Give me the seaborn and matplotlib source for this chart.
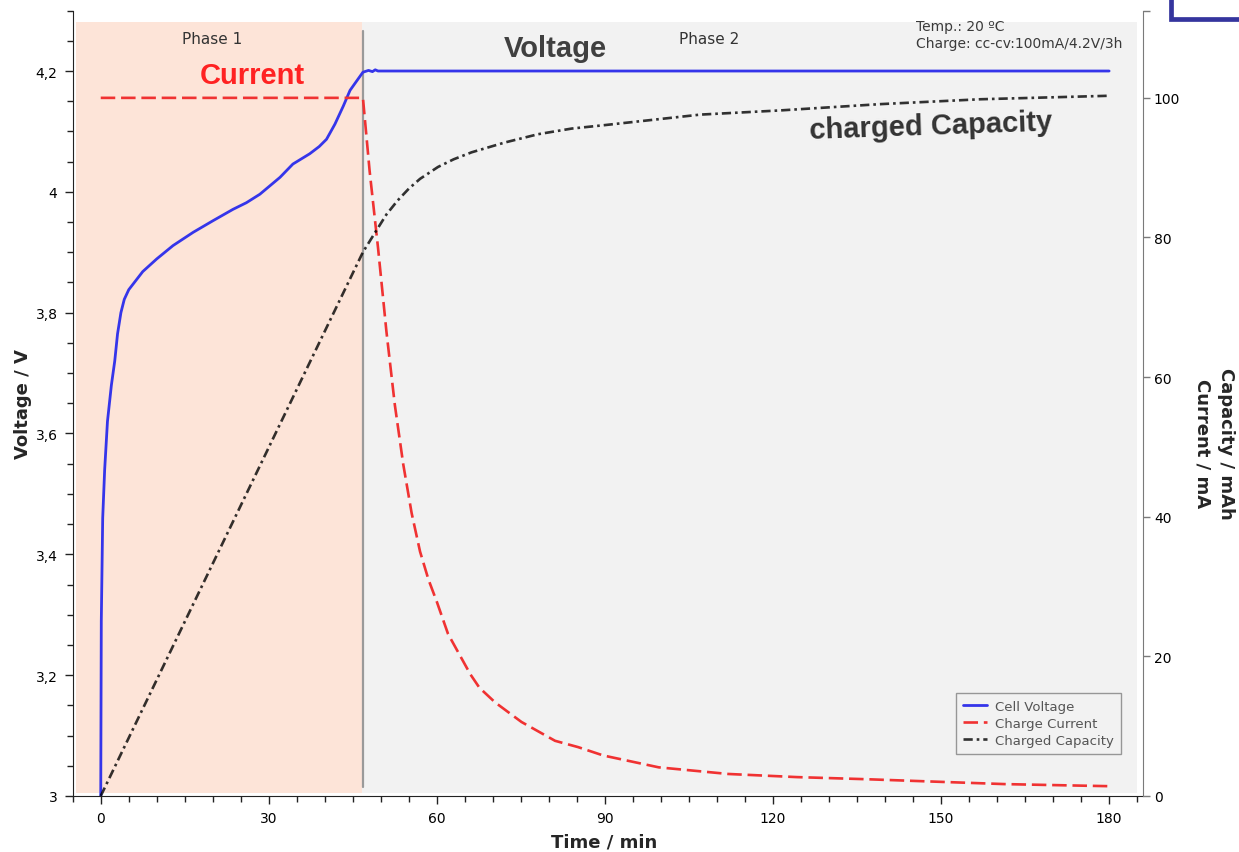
import matplotlib
matplotlib.use("Agg")
import matplotlib.pyplot as plt
import seaborn as sns
import pandas as pd
from matplotlib.ticker import FixedLocator, MultipleLocator, FixedFormatter
from matplotlib.lines import Line2D

# ---- measured series -------------------------------------------------------
volt_time = [0, 0.05, 0.1, 0.35, 0.7, 1.2, 1.9, 2.5, 3.0, 3.6, 4.2, 5.0, 6.0,
             7.5, 10.0, 12.9, 16.5, 20.0, 23.6, 26.0, 28.4, 32.0, 34.3, 37.3,
             39.0, 40.3, 41.8, 43.3, 44.5, 45.8, 46.8, 47.8, 48.5, 49.0, 49.5,
             50.5, 60, 90, 120, 150, 180]
volt_value = [3.00, 3.15, 3.29, 3.46, 3.54, 3.62, 3.68, 3.72, 3.765, 3.80,
              3.822, 3.838, 3.850, 3.868, 3.889, 3.911, 3.933, 3.952, 3.971,
              3.982, 3.996, 4.024, 4.046, 4.063, 4.075, 4.087, 4.112, 4.142,
              4.168, 4.185, 4.198, 4.201, 4.199, 4.202, 4.200, 4.200, 4.200,
              4.200, 4.200, 4.200, 4.200]

curr_time = [0, 46.8, 48.0, 49.5, 51.0, 52.5, 54.0, 55.5, 57.0, 58.5, 60.0,
             62.0, 64.0, 66.0, 67.6, 70.4, 75.1, 81.1, 85.2, 89.7, 99.6,
             112.0, 124.3, 136.6, 148.9, 161.3, 173.6, 180.0]
curr_value = [100, 100, 89.5, 78.5, 66.5, 56.0, 47.5, 40.5, 35.0, 31.0, 27.8,
              23.2, 20.3, 17.4, 15.5, 13.4, 10.6, 7.9, 7.0, 5.8, 4.1, 3.15,
              2.7, 2.4, 2.05, 1.7, 1.5, 1.4]

cap_time = [0, 46.8, 49.2, 51.0, 53.0, 55.0, 57.0, 60.2, 63.0, 66.2, 72.1,
            78.1, 84.05, 90, 107, 121.25, 139.1, 157, 180]
cap_value = [0, 77.9, 81.0, 83.3, 85.3, 87.0, 88.4, 90.1, 91.2, 92.2, 93.6,
             94.8, 95.6, 96.1, 97.6, 98.2, 99.1, 99.8, 100.3]

# ---- axis ticks --------------------------------------------------------------
time_ticks = [0, 30, 60, 90, 120, 150, 180]
volt_ticks = [3.0, 3.2, 3.4, 3.6, 3.8, 4.0, 4.2]
volt_tick_labels = ["3", "3,2", "3,4", "3,6", "3,8", "4", "4,2"]
cap_ticks = [0, 20, 40, 60, 80, 100]

phase_end = 46.8

sns.set_style("ticks")
plt.rcParams["font.family"] = ["DejaVu Sans"]
plt.rcParams["axes.edgecolor"] = "#222222"

fig = plt.figure(figsize=(12.39, 8.53), dpi=100)
ax = fig.add_axes([0.0587, 0.0657, 0.8636, 0.9207])
ax.set_facecolor("white")
ax2 = ax.twinx()

ax.set_xlim(-5, 186)
ax.set_ylim(3.0, 4.3)
ax2.set_ylim(0, 112.5)

# phase backgrounds
ax.axvspan(-4.5, 46.6, ymin=0.004, ymax=0.9855, color="#fde4d8", lw=0, zorder=0)
ax.axvspan(46.6, 185.0, ymin=0.004, ymax=0.9855, color="#f2f2f2", lw=0, zorder=0)
ax.axvline(phase_end, ymin=0.011, ymax=0.974, color="#9a9a9a", lw=1.6, zorder=1)

# curves
vdf = pd.DataFrame({"t": volt_time, "v": volt_value})
cdf = pd.DataFrame({"t": curr_time, "i": curr_value})
qdf = pd.DataFrame({"t": cap_time, "q": cap_value})

volt_style = dict(color="#3535ea", lw=2.0)
curr_style = dict(color="#f03232", lw=1.9, linestyle=(0, (5.5, 2.2)))
cap_style = dict(color="black", alpha=0.8, lw=1.9,
                 linestyle=(0, (3.5, 1.5, 1.0, 1.5)))

sns.lineplot(data=vdf, x="t", y="v", ax=ax, estimator=None, zorder=3,
             **volt_style)
sns.lineplot(data=cdf, x="t", y="i", ax=ax2, estimator=None, zorder=3,
             **curr_style)
sns.lineplot(data=qdf, x="t", y="q", ax=ax2, estimator=None, zorder=3,
             **cap_style)

# axes styling
ax.spines["top"].set_visible(False)
ax.spines["right"].set_visible(False)
ax2.spines["top"].set_visible(False)
ax2.spines["left"].set_visible(False)
ax2.spines["bottom"].set_visible(False)
ax2.spines["right"].set_color("#7a7a7a")
ax.spines["left"].set_color("#222222")
ax.spines["bottom"].set_color("#222222")

ax.xaxis.set_major_locator(FixedLocator(time_ticks))
ax.xaxis.set_minor_locator(MultipleLocator(5))
ax.yaxis.set_major_locator(FixedLocator(volt_ticks))
ax.yaxis.set_major_formatter(FixedFormatter(volt_tick_labels))
ax.yaxis.set_minor_locator(MultipleLocator(0.05))
ax2.yaxis.set_major_locator(FixedLocator(cap_ticks))
ax2.yaxis.set_minor_locator(FixedLocator([112.5]))

ax.tick_params(which="major", direction="out", length=6, width=1,
               labelsize=10, colors="#222222", labelcolor="black", pad=5)
ax.tick_params(which="minor", direction="out", length=4, width=1,
               colors="#222222")
ax2.tick_params(which="major", direction="out", length=5, width=1,
                labelsize=10, colors="#7a7a7a", labelcolor="black", pad=3)
ax2.tick_params(which="minor", direction="out", length=5, width=1,
                colors="#7a7a7a")

ax.set_xlabel("Time / min", fontsize=13, fontweight="bold")
ax.xaxis.set_label_coords(0.497, -0.047)
ax.set_ylabel("Voltage / V", fontsize=13, fontweight="bold")
ax.yaxis.set_label_coords(-0.038, 0.5)
ax2.set_ylabel("Capacity / mAh\nCurrent / mA", fontsize=13, fontweight="bold",
               rotation=270, linespacing=1.35, va="center", ha="center")
ax2.yaxis.set_label_coords(1.0667, 0.45)

# phase captions and series annotations
ax2.text(19.8, 108.5, "Phase 1", fontsize=11, color="#333333",
         ha="center", va="center")
ax2.text(108.6, 108.5, "Phase 2", fontsize=11, color="#333333",
         ha="center", va="center")
ax2.text(145.5, 110.3, "Temp.: 20 ºC", fontsize=10, color="#3a3a3a",
         ha="left", va="center")
ax2.text(145.5, 107.9, "Charge: cc-cv:100mA/4.2V/3h", fontsize=10,
         color="#3a3a3a", ha="left", va="center")

bold_font = ["Liberation Sans", "DejaVu Sans"]
ax2.text(27.1, 103.3, "Current", fontsize=21, fontweight="bold",
         color="#ff2222", family=bold_font, ha="center", va="center")
ax2.text(81.1, 107.2, "Voltage", fontsize=21, fontweight="bold",
         color="#404040", family=bold_font, ha="center", va="center")
ax2.text(148.2, 96.0, "charged Capacity", fontsize=21, fontweight="bold",
         color="#333333", family=bold_font, ha="center", va="center",
         rotation=2, rotation_mode="anchor")

# legend
handles = [Line2D([], [], **volt_style),
           Line2D([], [], **curr_style),
           Line2D([], [], **cap_style)]
labels = ["Cell Voltage", "Charge Current", "Charged Capacity"]
leg = ax2.legend(handles, labels, loc="lower right",
                 bbox_to_anchor=(0.9797, 0.0535), borderaxespad=0,
                 fontsize=9.5, frameon=True, fancybox=False,
                 handlelength=1.8, handletextpad=0.6, borderpad=0.55,
                 labelspacing=0.3, labelcolor="#555555")
leg.get_frame().set_edgecolor("#808080")
leg.get_frame().set_facecolor("#f2f2f2")
leg.get_frame().set_linewidth(1.0)

# window frame fragment in the upper right corner
fig.add_artist(Line2D([0.9449, 0.9449, 1.0], [1.0, 0.976, 0.976],
                      transform=fig.transFigure, color="#35359e", lw=3.4,
                      solid_joinstyle="miter"))

fig.savefig("out.png", dpi=100)
